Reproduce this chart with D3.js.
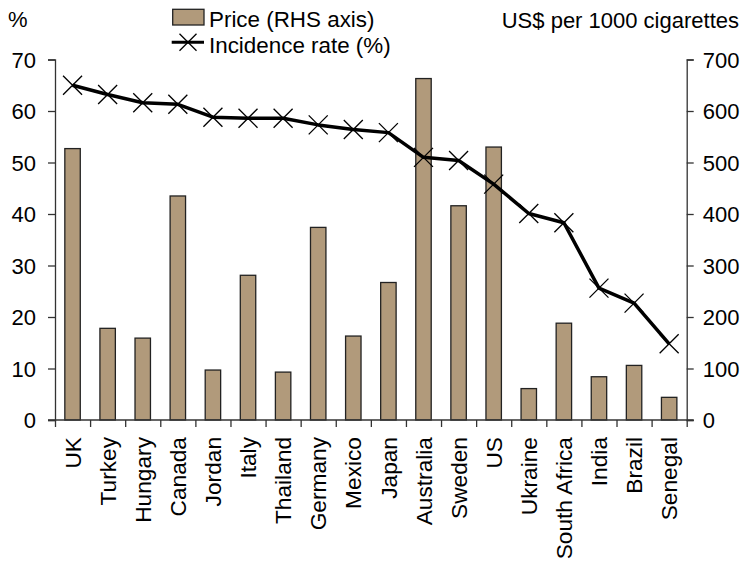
<!DOCTYPE html>
<html>
<head>
<meta charset="utf-8">
<script src="https://cdn.jsdelivr.net/npm/d3@7"></script>
<style>
  html, body { margin: 0; padding: 0; background: #fff; }
  svg { display: block; font-family: "Liberation Sans", Arial, sans-serif; }
  .axis text { font-size: 22px; fill: #000; }
  .axis.cats text { font-size: 22.7px; }
  .axis path, .axis line { stroke: #333; stroke-width: 1.3; }
</style>
</head>
<body>
<svg id="chart" width="744" height="561"></svg>
<script>
// Countries, ordered by smoking incidence
const countries = ["UK", "Turkey", "Hungary", "Canada", "Jordan", "Italy", "Thailand", "Germany",
  "Mexico", "Japan", "Australia", "Sweden", "US", "Ukraine", "South Africa", "India", "Brazil", "Senegal"];
// Price, US$ per 1000 cigarettes (right-hand axis)
const price = [527, 178, 159, 435, 97, 281, 93, 374, 163, 267, 663, 416, 530, 61, 188, 84, 106, 44];
// Smoking incidence rate, % (left-hand axis)
const incidence = [65.0, 63.2, 61.6, 61.3, 58.8, 58.6, 58.6, 57.3, 56.4, 55.8, 51.0, 50.4, 45.8, 40.1, 38.3, 25.6, 22.7, 14.8];
const leftTicks = [0, 10, 20, 30, 40, 50, 60, 70];
const rightTicks = [0, 100, 200, 300, 400, 500, 600, 700];

const svg = d3.select("#chart");
const plotLeft = 55, plotRight = 686.7, plotTop = 59.5, plotBottom = 420;
const barColor = "#b19a7b";

const x = d3.scaleBand().domain(countries).range([plotLeft, plotRight]).padding(0);
const xEdge = d3.scaleLinear().domain([0, countries.length]).range([plotLeft, plotRight]);
const yL = d3.scaleLinear().domain([0, 70]).range([plotBottom, plotTop]);
const yR = d3.scaleLinear().domain([0, 700]).range([plotBottom, plotTop]);
const barW = x.bandwidth() * 0.44;

// Bars: price
svg.append("g").selectAll("rect").data(countries).join("rect")
  .attr("x", (d) => x(d) + x.bandwidth() / 2 - barW / 2)
  .attr("y", (d, i) => yR(price[i]))
  .attr("width", barW)
  .attr("height", (d, i) => plotBottom - yR(price[i]))
  .attr("fill", barColor)
  .attr("stroke", "#222")
  .attr("stroke-width", 1.3);

// Left axis
svg.append("g").attr("class", "axis")
  .attr("transform", `translate(${plotLeft},0)`)
  .call(d3.axisLeft(yL).tickValues(leftTicks).tickSize(7).tickSizeOuter(7).tickPadding(12))
  .call((g) => g.selectAll("text").attr("dy", "0.36em"));

// Right axis
svg.append("g").attr("class", "axis")
  .attr("transform", `translate(${plotRight},0)`)
  .call(d3.axisRight(yR).tickValues(rightTicks).tickSize(7).tickSizeOuter(7).tickPadding(9))
  .call((g) => g.selectAll("text").attr("dy", "0.36em"));

// Category boundary ticks and baseline
svg.append("g").attr("class", "axis")
  .attr("transform", `translate(0,${plotBottom})`)
  .call(d3.axisBottom(xEdge).tickValues(d3.range(countries.length + 1)).tickSize(7).tickSizeOuter(0).tickFormat(""))
  .call((g) => g.select(".domain").remove());
svg.append("line")
  .attr("x1", plotLeft - 7).attr("x2", plotRight + 7)
  .attr("y1", plotBottom).attr("y2", plotBottom)
  .attr("stroke", "#333").attr("stroke-width", 1.3);

// Category labels, rotated
svg.append("g").attr("class", "axis cats")
  .attr("transform", `translate(0,${plotBottom})`)
  .call(d3.axisBottom(x).tickSize(0).tickPadding(0))
  .call((g) => g.select(".domain").remove())
  .call((g) => g.selectAll("text")
    .attr("transform", "translate(0,17) rotate(-90)")
    .attr("x", 0).attr("y", 0)
    .attr("dy", "0.36em")
    .attr("text-anchor", "end"));

// Incidence line with cross markers
const line = d3.line()
  .x((d, i) => x(countries[i]) + x.bandwidth() / 2)
  .y((d) => yL(d));
svg.append("path").datum(incidence)
  .attr("d", line)
  .attr("fill", "none")
  .attr("stroke", "#000")
  .attr("stroke-width", 3.5)
  .attr("stroke-linejoin", "round");

const cross = (s) => `M${-s},${-s}L${s},${s}M${-s},${s}L${s},${-s}`;
svg.append("g").selectAll("path").data(incidence).join("path")
  .attr("transform", (d, i) => `translate(${x(countries[i]) + x.bandwidth() / 2},${yL(d)})`)
  .attr("d", cross(9.5))
  .attr("stroke", "#000")
  .attr("stroke-width", 1.3)
  .attr("fill", "none");

// Axis titles
svg.append("text").attr("x", 8).attr("y", 27).attr("font-size", 22).text("%");
svg.append("text").attr("x", 739).attr("y", 28).attr("font-size", 22)
  .attr("text-anchor", "end").text("US$ per 1000 cigarettes");

// Legend
const lg = svg.append("g");
lg.append("rect").attr("x", 172.7).attr("y", 9.3).attr("width", 31.3).attr("height", 15.7)
  .attr("fill", barColor).attr("stroke", "#222").attr("stroke-width", 1.3);
lg.append("text").attr("x", 209).attr("y", 26.7).attr("font-size", 22.4).text("Price (RHS axis)");
lg.append("line").attr("x1", 171.7).attr("x2", 204).attr("y1", 42.3).attr("y2", 42.3)
  .attr("stroke", "#000").attr("stroke-width", 3);
lg.append("path").attr("transform", "translate(188,42.3)").attr("d", cross(8.5))
  .attr("stroke", "#000").attr("stroke-width", 1.3).attr("fill", "none");
lg.append("text").attr("x", 209).attr("y", 53.3).attr("font-size", 22.4).text("Incidence rate (%)");
</script>
</body>
</html>
